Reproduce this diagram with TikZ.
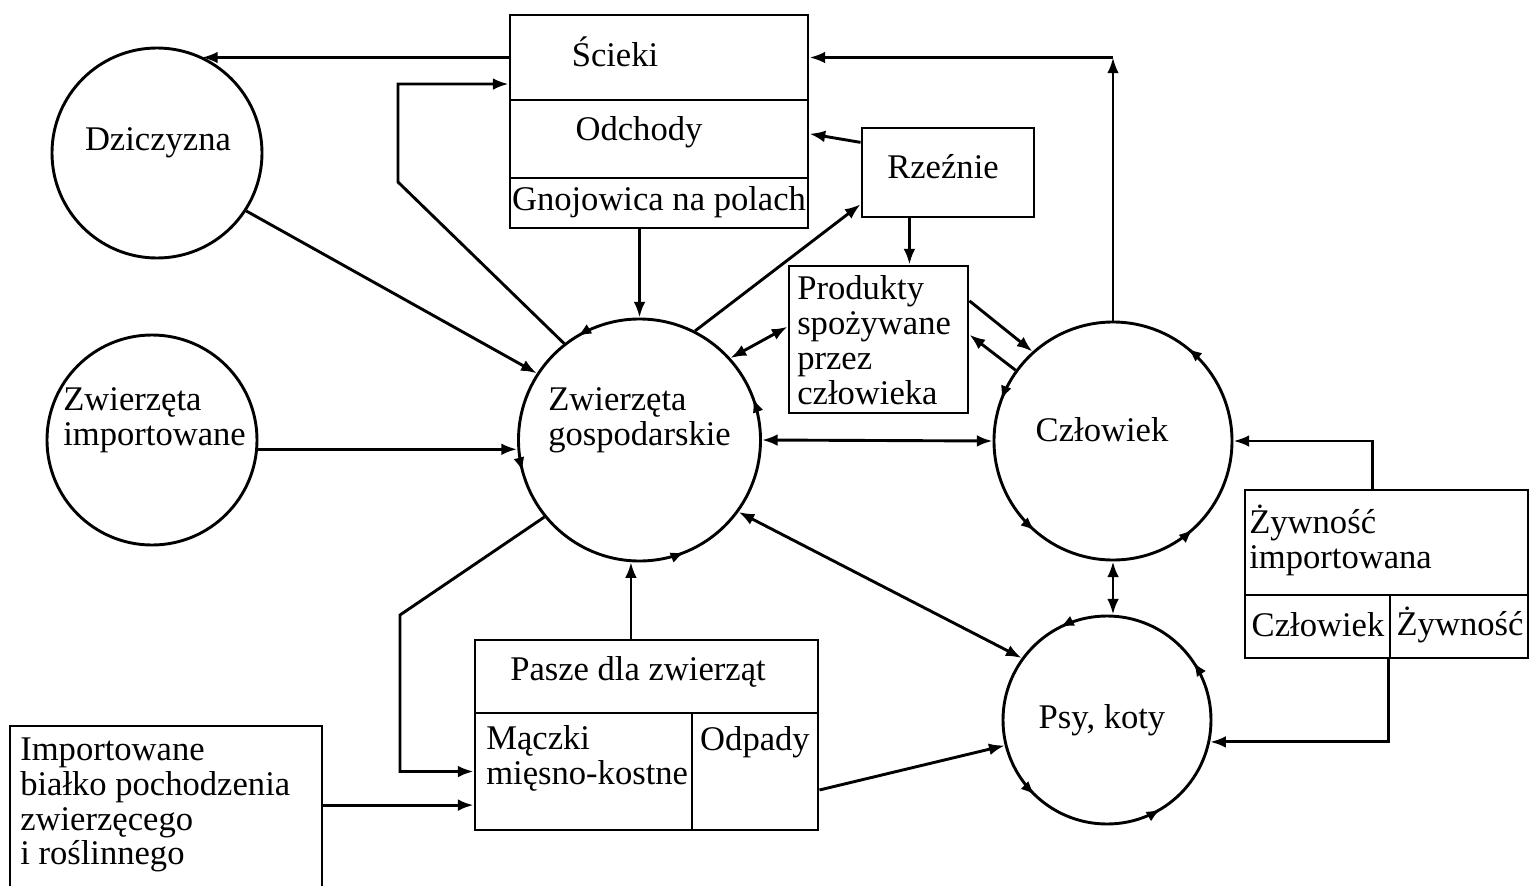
\documentclass[tikz,border=0pt]{standalone}
\usepackage{fontspec}
\setmainfont{Liberation Serif}
\usepackage{tikz}
\usetikzlibrary{arrows.meta,decorations.markings}
\tikzset{>={Latex[width=3mm,length=4mm]}}
\tikzset{
  ring/.style={shape=circle,draw,line width=2.1pt,inner sep=0pt,minimum size=#1},
  cell/.style 2 args={shape=rectangle,draw,line width=2.1pt,inner sep=0pt,minimum width=#1,minimum height=#2},
  txt/.style={inner sep=0pt,align=left},
  spin/.style={postaction={decorate,decoration={markings,mark=at position #1 with {\arrow{Latex[width=2.8mm,length=3.6mm]}}}}},
  link/.style={line width=2.1pt},
}

\begin{document}
\begin{tikzpicture}[font=\fontsize{25}{25.2}\selectfont]
\useasboundingbox (0,0) rectangle (15.31in,-8.86in);

% kola
\path (1.57in,-1.53in) node (dzicz) [ring=2.10in] {};
\path (1.52in,-4.40in) node (zwimp) [ring=2.10in] {};
\path (6.395in,-4.40in) node (gosp) [ring=2.42in,spin=0.336,spin=0.542,spin=0.811,spin=0.056] {};
\path (11.13in,-4.41in) node (czlow) [ring=2.38in,spin=0.142,spin=0.444,spin=0.636,spin=0.867] {};
\path (11.07in,-7.20in) node (psy) [ring=2.08in,spin=0.325,spin=0.628,spin=0.836,spin=0.094] {};

% prostokaty
\path (6.59in,-0.575in) node (sciek) [cell={2.98in}{0.85in}] {};
\path (6.59in,-1.39in) node (odch) [cell={2.98in}{0.78in}] {};
\path (6.59in,-2.03in) node (gnoj) [cell={2.98in}{0.50in}] {};
\path (9.48in,-1.725in) node (rzez) [cell={1.72in}{0.89in}] {};
\path (8.785in,-3.395in) node (prod) [cell={1.79in}{1.47in}] {};
\path (13.865in,-5.425in) node (zywn) [cell={2.83in}{1.05in}] {};
\path (13.175in,-6.265in) node (zyw1) [cell={1.45in}{0.63in}] {};
\path (14.59in,-6.265in) node (zyw2) [cell={1.38in}{0.63in}] {};
\path (6.465in,-6.765in) node (pasz) [cell={3.43in}{0.73in}] {};
\path (5.835in,-7.715in) node (macz) [cell={2.17in}{1.17in}] {};
\path (7.55in,-7.715in) node (odpa) [cell={1.26in}{1.17in}] {};
\path (1.66in,-8.38in) node (impo) [cell={3.12in}{2.24in}] {};

% napisy
\path (1.58in,-1.43in) node (tDzicz) [txt] {Dziczyzna};
\path (0.63in,-4.20in) node (tZwimp) [txt,anchor=west] {Zwierzęta\\importowane};
\path (5.48in,-4.20in) node (tGosp) [txt,anchor=west] {Zwierzęta\\gospodarskie};
\path (11.02in,-4.30in) node (tCzlow) [txt] {Człowiek};
\path (11.02in,-7.20in) node (tPsy) [txt] {Psy, koty};
\path (6.15in,-0.52in) node (tSciek) [txt] {Ścieki};
\path (6.39in,-1.32in) node (tOdch) [txt] {Odchody};
\path (6.59in,-2.02in) node (tGnoj) [txt] {Gnojowica na polach};
\path (9.43in,-1.67in) node (tRzez) [txt] {Rzeźnie};
\path (7.97in,-3.40in) node (tProd) [txt,anchor=west] {Produkty\\spożywane\\przez\\człowieka};
\path (12.49in,-5.40in) node (tZywn) [txt,anchor=west] {Żywność\\importowana};
\path (13.18in,-6.25in) node (tZyw1) [txt] {Człowiek};
\path (14.60in,-6.25in) node (tZyw2) [txt] {Żywność};
\path (6.38in,-6.72in) node (tPasz) [txt] {Pasze dla zwierząt};
\path (4.86in,-7.58in) node (tMacz) [txt,anchor=west] {Mączki\\mięsno-kostne};
\path (7.55in,-7.42in) node (tOdpa) [txt] {Odpady};
\path (0.20in,-8.05in) node (tImpo) [txt,anchor=west] {Importowane\\białko pochodzenia\\zwierzęcego\\i roślinnego};

% punkty zalaman
\coordinate (loopA) at (3.98in,-1.82in);
\coordinate (loopB) at (4.00in,-6.15in);
\coordinate (cornerTR) at (czlow.north |- sciek.east);

% strzalki
\draw[link,->] (sciek.west) -- (dzicz.65 |- sciek.west);
\draw[link,->] (dzicz.-33) -- (gosp.147);
\draw[link,->] (gosp.128) -- (loopA) |- (sciek.190);
\draw[link,->] (zwimp.-5) -- (zwimp.-5 -| gosp.west);
\draw[link,->] (gosp.north |- gnoj.south) -- (gosp.north);
\draw[link,->] (gosp.63) -- (rzez.200);
\draw[link,->] (rzez.161) -- (odch.2);
\draw[link,->] (rzez.230) -- (rzez.230 |- prod.north);
\draw[link,<->] (gosp.42) -- (prod.172);
\draw[link,->] (prod.23) -- (czlow.132);
\draw[link,->] (czlow.144) -- (prod.3);
\draw[link,<->] (gosp.east) -- (czlow.west);
\draw[link,->] (czlow.north) -- (cornerTR);
\draw[link,->] (cornerTR) -- (sciek.east);
\draw[link,->] (zywn.105) |- (czlow.east);
\draw[link,->] (zyw2.south west) |- (psy.-12);
\draw[link,<->] (czlow.south) -- (psy.north -| czlow.south);
\draw[link,<->] (gosp.-36) -- (psy.144);
\draw[link,->] (pasz.north -| gosp.266) -- (gosp.266);
\draw[link,->] (gosp.219) -- (loopB) |- (macz.west);
\draw[link,->] (macz.197 -| impo.east) -- (macz.197);
\draw[link,->] (odpa.-16) -- (psy.194);

\end{tikzpicture}
\end{document}
